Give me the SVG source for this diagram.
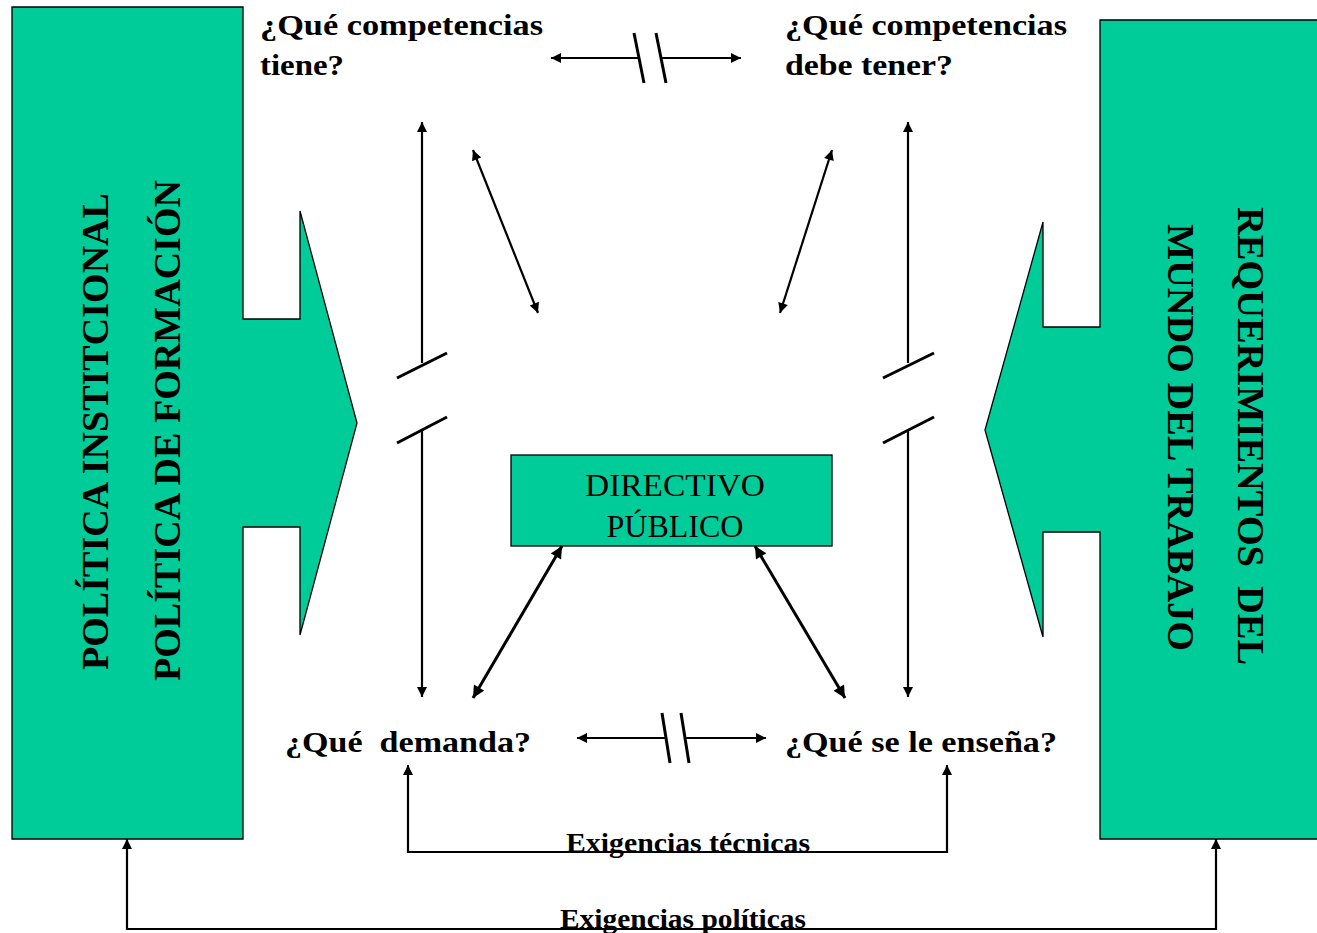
<svg xmlns="http://www.w3.org/2000/svg" width="1317" height="933" viewBox="0 0 1317 933">
<style>
.shape{fill:#00CC99;stroke:#000;stroke-width:1.3}
.big{font-family:"Liberation Serif","Times New Roman",Times,serif;font-weight:bold;fill:#000}
.q{font-size:30px}
.side{font-size:37px}
.box{font-family:"Liberation Serif","Times New Roman",Times,serif;font-size:32px;fill:#000}
.lbl{font-size:27px}
.ln{stroke:#000;stroke-width:2.2;fill:none}
.thick{stroke-width:3}
.brk{stroke:#000;stroke-width:3;fill:none}
</style>
<defs>
<marker id="ah" viewBox="0 0 10 10" refX="10" refY="5" markerWidth="12" markerHeight="10" markerUnits="userSpaceOnUse" orient="auto-start-reverse">
<path d="M0,0 L10,5 L0,10 Z" fill="#000"/>
</marker>
<marker id="ah2" viewBox="0 0 10 10" refX="10" refY="5" markerWidth="13" markerHeight="12" markerUnits="userSpaceOnUse" orient="auto-start-reverse">
<path d="M0,0 L10,5 L0,10 Z" fill="#000"/>
</marker>
</defs>
<rect width="1317" height="933" fill="#fff"/>

<g id="politica">
<path class="shape" d="M12,7 H243 V319 H300 V211 L357,423 L300,635 V527 H243 V839 H12 Z"/>
<text class="big side" transform="translate(108,670) rotate(-90)" textLength="477" lengthAdjust="spacingAndGlyphs">POLÍTICA INSTITCIONAL</text>
<text class="big side" transform="translate(180,681) rotate(-90)" textLength="501" lengthAdjust="spacingAndGlyphs">POLÍTICA DE FORMACIÓN</text>
</g>

<g id="requerimientos">
<path class="shape" d="M1100,20 H1320 V839 H1100 V532 H1043 V637 L985,430 L1043,222 V327 H1100 Z"/>
<text class="big side" transform="translate(1238,207) rotate(90)" textLength="458" lengthAdjust="spacingAndGlyphs" style="white-space:pre">REQUERIMIENTOS  DEL</text>
<text class="big side" transform="translate(1168,224) rotate(90)" textLength="427" lengthAdjust="spacingAndGlyphs">MUNDO DEL TRABAJO</text>
</g>

<g id="directivo">
<rect class="shape" x="511" y="455" width="321" height="91"/>
<text class="box" x="675" y="496" text-anchor="middle" textLength="180" lengthAdjust="spacingAndGlyphs">DIRECTIVO</text>
<text class="box" x="675" y="537" text-anchor="middle">PÚBLICO</text>
</g>

<g id="tiene">
<text class="big q" x="260" y="35" textLength="283" lengthAdjust="spacingAndGlyphs">¿Qué competencias</text>
<text class="big q" x="260" y="75" textLength="84" lengthAdjust="spacingAndGlyphs">tiene?</text>
</g>

<g id="debe">
<text class="big q" x="785" y="35" textLength="282" lengthAdjust="spacingAndGlyphs">¿Qué competencias</text>
<text class="big q" x="785" y="75" textLength="168" lengthAdjust="spacingAndGlyphs">debe tener?</text>
</g>

<g id="demanda">
<text class="big q" x="285" y="752" textLength="246" lengthAdjust="spacingAndGlyphs" style="white-space:pre">¿Qué  demanda?</text>
</g>

<g id="ensena">
<text class="big q" x="785" y="752" textLength="272" lengthAdjust="spacingAndGlyphs">¿Qué se le enseña?</text>
</g>

<g id="connectors">
<line class="ln" x1="639" y1="58" x2="551" y2="58" marker-end="url(#ah)"/>
<line class="ln" x1="661" y1="58" x2="741" y2="58" marker-end="url(#ah)"/>
<line class="brk" x1="634" y1="33" x2="644" y2="83"/>
<line class="brk" x1="656" y1="33" x2="666" y2="83"/>
<line class="ln" x1="666" y1="738" x2="577" y2="738" marker-end="url(#ah)"/>
<line class="ln" x1="685" y1="738" x2="766" y2="738" marker-end="url(#ah)"/>
<line class="brk" x1="662" y1="713" x2="670" y2="763"/>
<line class="brk" x1="681" y1="713" x2="689" y2="763"/>
<line class="ln" x1="422" y1="363" x2="422" y2="122" marker-end="url(#ah)"/>
<line class="ln" x1="422" y1="430" x2="422" y2="697" marker-end="url(#ah)"/>
<line class="brk" x1="397" y1="378" x2="447" y2="353"/>
<line class="brk" x1="397" y1="443" x2="447" y2="417"/>
<line class="ln" x1="908" y1="363" x2="908" y2="122" marker-end="url(#ah)"/>
<line class="ln" x1="908" y1="430" x2="908" y2="697" marker-end="url(#ah)"/>
<line class="brk" x1="883" y1="378" x2="934" y2="353"/>
<line class="brk" x1="883" y1="443" x2="934" y2="417"/>
<line class="ln" x1="473" y1="150" x2="538" y2="313" marker-start="url(#ah)" marker-end="url(#ah)"/>
<line class="ln" x1="832" y1="150" x2="780" y2="313" marker-start="url(#ah)" marker-end="url(#ah)"/>
<line class="ln thick" x1="562" y1="546" x2="473" y2="698" marker-start="url(#ah2)" marker-end="url(#ah2)"/>
<line class="ln thick" x1="755" y1="546" x2="845" y2="698" marker-start="url(#ah2)" marker-end="url(#ah2)"/>
<polyline class="ln" points="408,765 408,852 947,852 947,765" marker-start="url(#ah)" marker-end="url(#ah)"/>
<polyline class="ln" points="127,839 127,929 1216,929 1216,839" marker-start="url(#ah)" marker-end="url(#ah)"/>
</g>

<g id="labels">
<text class="big lbl" x="566" y="852" textLength="244" lengthAdjust="spacingAndGlyphs">Exigencias  técnicas</text>
<text class="big lbl" x="560" y="928" textLength="246" lengthAdjust="spacingAndGlyphs">Exigencias  políticas</text>
</g>
</svg>
